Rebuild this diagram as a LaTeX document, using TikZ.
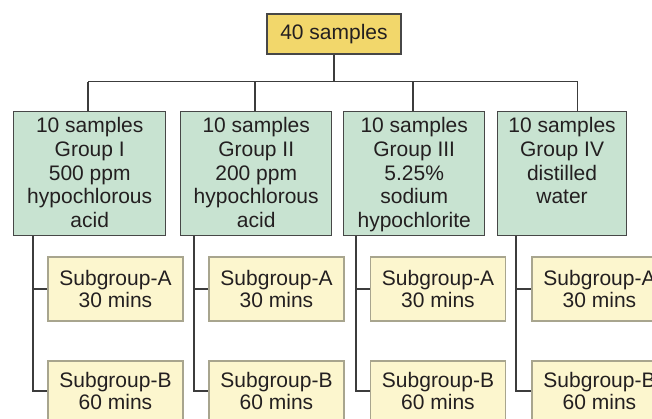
\documentclass[tikz,border=0pt]{standalone}
\usepackage{fontspec}
\setmainfont{Liberation Sans}
\definecolor{topfill}{HTML}{F2D76B}
\definecolor{grpfill}{HTML}{C8E3D1}
\definecolor{subfill}{HTML}{FCF6CE}
\definecolor{boxline}{HTML}{474747}
\definecolor{subline}{HTML}{A8A58E}
\definecolor{lineclr}{HTML}{3C3C3C}
\definecolor{txt}{HTML}{231F20}
\newcommand{\grptext}[2]{\parbox[t][124pt][t]{#1}{\centering\fontsize{21}{23.7}\selectfont\color{txt}\vspace*{6.2pt}#2\par}}
\begin{document}
\begin{tikzpicture}[x=1pt,y=-1pt,
  topbox/.style={draw=boxline, fill=topfill, line width=1.4pt, minimum width=134pt, minimum height=40pt, inner sep=0pt, font=\fontsize{21}{23.7}\selectfont, text=txt},
  grpbox/.style={draw=boxline, fill=grpfill, line width=1.4pt, inner sep=0pt, anchor=north west},
  subbox/.style={draw=subline, fill=subfill, line width=1.3pt, minimum width=135pt, minimum height=64pt, inner sep=0pt, align=center, font=\fontsize{21}{22.3}\selectfont, text=txt},
  subboxb/.style={subbox, minimum height=60pt},
  conn/.style={draw=lineclr, line width=1.3pt}]
\useasboundingbox (0,0) rectangle (652,419);
\clip (0,0) rectangle (652,419);
\fill[white] (0,0) rectangle (652,419);

\node[topbox] (top) at (334,34) {40 samples};

\node[grpbox] (g1) at (13,110.7) {\grptext{152pt}{10 samples\\Group I\\500 ppm\\hypochlorous\\acid}};
\node[grpbox] (g2) at (180,110.7) {\grptext{151pt}{10 samples\\Group II\\200 ppm\\hypochlorous\\acid}};
\node[grpbox] (g3) at (343,110.7) {\grptext{141pt}{10 samples\\Group III\\5.25\%\\sodium\\hypochlorite}};
\node[grpbox] (g4) at (496.7,110.7) {\grptext{129.3pt}{10 samples\\Group IV\\distilled\\water}};

\node[subbox] (a1) at (115.5,289) {Subgroup-A\\30 mins};
\node[subbox] (a2) at (276.5,289) {Subgroup-A\\30 mins};
\node[subbox] (a3) at (438,289) {Subgroup-A\\30 mins};
\node[subbox] (a4) at (599.5,289) {Subgroup-A\\30 mins};
\node[subboxb] (b1) at (115.5,391) {Subgroup-B\\60 mins};
\node[subboxb] (b2) at (276.5,391) {Subgroup-B\\60 mins};
\node[subboxb] (b3) at (438,391) {Subgroup-B\\60 mins};
\node[subboxb] (b4) at (599.5,391) {Subgroup-B\\60 mins};

\coordinate (j1) at (88,81.7);
\coordinate (j2) at (255,81.7);
\coordinate (j3) at (413,81.7);
\coordinate (j4) at (577.7,81.7);

\draw[conn] (top.south) -- (top.south |- j1);
\draw[conn] (j1) -- (j4);
\draw[conn] (j1) -- (j1 |- g1.north);
\draw[conn] (j2) -- (j2 |- g2.north);
\draw[conn] (j3) -- (j3 |- g3.north);
\draw[conn] (j4) -- (j4 |- g4.north);

\draw[conn] ([xshift=20pt]g1.south west) |- (a1.west);
\draw[conn] ([xshift=20pt]g1.south west) |- (b1.west);
\draw[conn] ([xshift=14pt]g2.south west) |- (a2.west);
\draw[conn] ([xshift=14pt]g2.south west) |- (b2.west);
\draw[conn] ([xshift=13pt]g3.south west) |- (a3.west);
\draw[conn] ([xshift=13pt]g3.south west) |- (b3.west);
\draw[conn] ([xshift=19.3pt]g4.south west) |- (a4.west);
\draw[conn] ([xshift=19.3pt]g4.south west) |- (b4.west);
\end{tikzpicture}
\end{document}
